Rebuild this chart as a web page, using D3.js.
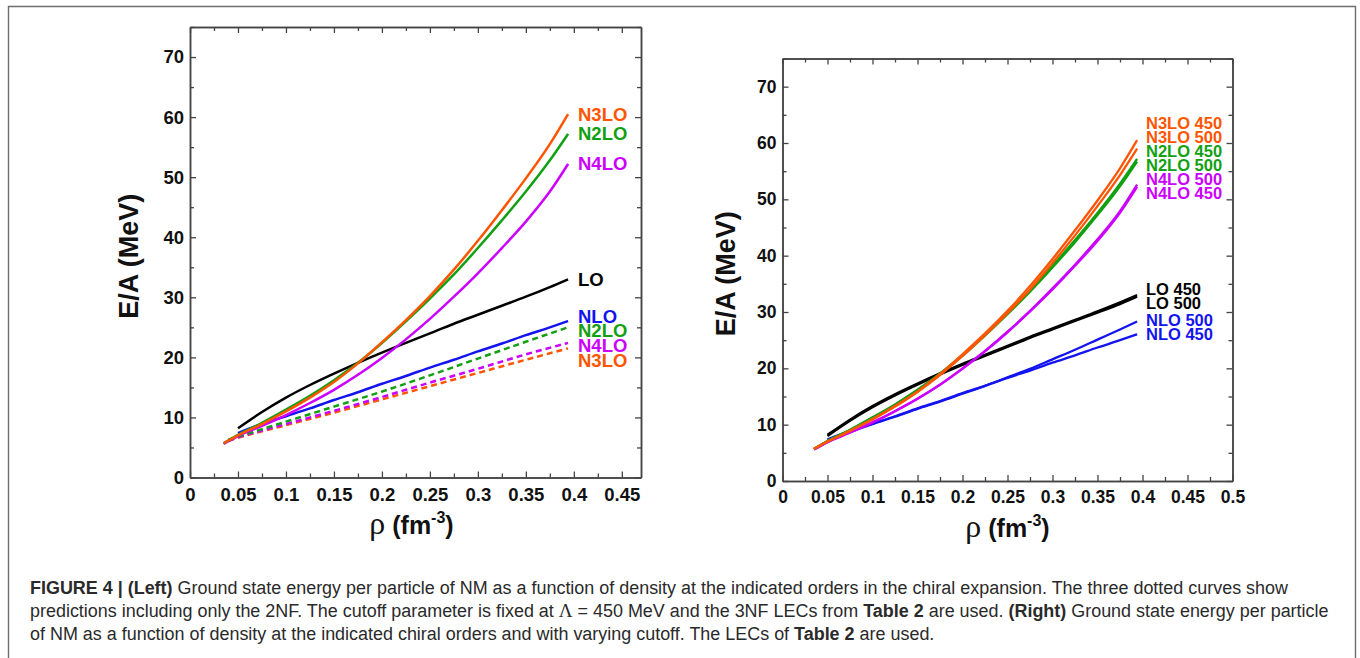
<!DOCTYPE html>
<html>
<head>
<meta charset="utf-8">
<script src="https://cdn.jsdelivr.net/npm/d3@7"></script>
<style>
  html, body { margin: 0; padding: 0; background: #fff; }
  svg { display: block; }
</style>
</head>
<body>
<svg id="fig" width="1360" height="658"></svg>
<script>
// ---- densities (fm^-3) ----
const rho = [0.035, 0.05, 0.075, 0.1, 0.125, 0.15, 0.175, 0.2, 0.225, 0.25, 0.275, 0.3, 0.325, 0.35, 0.375, 0.394];
const rhoFrom05 = [0.05, 0.075, 0.1, 0.125, 0.15, 0.175, 0.2, 0.225, 0.25, 0.275, 0.3, 0.325, 0.35, 0.375, 0.394];
const rho2NF = [0.04, 0.05, 0.1, 0.15, 0.2, 0.25, 0.3, 0.35, 0.394];

// ---- E/A (MeV), full calculations ----
const n3lo450 = [5.7, 7.0, 8.9, 11.0, 13.3, 15.9, 19.0, 22.5, 26.2, 30.2, 34.6, 39.4, 44.5, 49.8, 55.5, 60.5];
const n3lo500 = [5.7, 7.0, 8.9, 10.9, 13.2, 15.8, 18.8, 22.2, 25.9, 29.8, 34.0, 38.7, 43.6, 48.8, 54.3, 59.0];
const n2lo450 = [5.7, 7.1, 9.1, 11.3, 13.6, 16.2, 19.1, 22.4, 26.0, 29.8, 33.8, 38.2, 42.8, 47.6, 52.8, 57.2];
const n2lo500 = [5.7, 7.1, 9.0, 11.2, 13.5, 16.1, 19.0, 22.2, 25.8, 29.6, 33.6, 37.9, 42.4, 47.2, 52.3, 56.7];
const n4lo450 = [5.6, 6.9, 8.6, 10.4, 12.4, 14.6, 17.1, 19.9, 23.0, 26.4, 30.1, 34.0, 38.2, 42.6, 47.6, 52.2];
const n4lo500 = [5.6, 6.9, 8.6, 10.4, 12.4, 14.6, 17.1, 20.0, 23.1, 26.5, 30.2, 34.2, 38.4, 42.9, 47.9, 52.6];
const lo450 = [8.2, 10.9, 13.3, 15.4, 17.3, 19.1, 20.8, 22.4, 24.0, 25.6, 27.1, 28.6, 30.1, 31.7, 33.0];
const lo500 = [8.0, 10.7, 13.1, 15.2, 17.1, 18.9, 20.6, 22.2, 23.8, 25.4, 26.9, 28.4, 29.9, 31.4, 32.7];
const nlo450 = [7.4, 8.9, 10.2, 11.5, 12.9, 14.2, 15.6, 16.9, 18.3, 19.6, 21.0, 22.3, 23.7, 25.0, 26.05];
const nlo500 = [7.2, 8.7, 10.1, 11.4, 12.8, 14.1, 15.5, 16.9, 18.4, 19.9, 21.6, 23.3, 25.1, 26.9, 28.3];

// ---- E/A (MeV), 2NF only ----
const n2lo2NF = [6.3, 6.8, 9.3, 11.8, 14.3, 17.0, 19.8, 22.6, 25.0];
const n4lo2NF = [6.2, 6.7, 8.9, 11.1, 13.4, 15.8, 18.1, 20.5, 22.4];
const n3lo2NF = [6.1, 6.6, 8.7, 10.8, 13.0, 15.2, 17.4, 19.6, 21.5];

// ---- axis ticks ----
const yTicks = [0, 10, 20, 30, 40, 50, 60, 70];
const yMinor = [5, 15, 25, 35, 45, 55, 65, 75];
const xTicksLeft = [0, 0.05, 0.1, 0.15, 0.2, 0.25, 0.3, 0.35, 0.4, 0.45];
const xTicksRight = [0, 0.05, 0.1, 0.15, 0.2, 0.25, 0.3, 0.35, 0.4, 0.45, 0.5];
const xMinorLeft = [0.025, 0.075, 0.125, 0.175, 0.225, 0.275, 0.325, 0.375, 0.425];
const xMinorRight = [0.025, 0.075, 0.125, 0.175, 0.225, 0.275, 0.325, 0.375, 0.425, 0.475];

// ---- curve labels: text and vertical placement (MeV) ----
const labelsLeft = ["N3LO", "N2LO", "N4LO", "LO", "NLO", "N2LO", "N4LO", "N3LO"];
const labelYLeft = [60.5, 57.3, 52.3, 33.0, 26.9, 24.5, 22.0, 19.5];
const labelsRight = ["N3LO 450", "N3LO 500", "N2LO 450", "N2LO 500", "N4LO 500", "N4LO 450", "LO 450", "LO 500", "NLO 500", "NLO 450"];
const labelYRight = [63.6, 61.1, 58.6, 56.1, 53.6, 51.1, 34.1, 31.6, 28.6, 26.0];

const C = { N3LO: "#ff5500", N2LO: "#12a012", N4LO: "#cc00ff", LO: "#000000", NLO: "#1414f0" };
const colorOf = t => C[t.split(" ")[0]];

const svg = d3.select("#fig");
svg.append("rect").attr("width", 1360).attr("height", 658).attr("fill", "#fff");

// figure frame (open at the bottom)
svg.append("path")
  .attr("d", "M8.5,658 V6.5 H1355.5 V658")
  .attr("fill", "none").attr("stroke", "#6e6e6e").attr("stroke-width", 1.4);

const tickFmt = d => d === 0 ? "0" : String(+d.toFixed(2));

function panel(cfg) {
  const g = svg.append("g");
  const x = d3.scaleLinear().domain([0, cfg.xmax]).range([cfg.left, cfg.right]);
  const y = d3.scaleLinear().domain([0, 75]).range([cfg.bottom, cfg.top]);

  const styleAxis = sel => {
    sel.selectAll("path.domain").attr("stroke", "#444").attr("stroke-width", 1.5);
    sel.selectAll(".tick line").attr("stroke", "#444").attr("stroke-width", 1.3);
    sel.selectAll("text").attr("font-family", "Liberation Sans, Arial, sans-serif")
      .attr("font-weight", "bold").attr("font-size", cfg.tickFont).attr("fill", "#111");
  };

  // major + minor ticks on all four sides, pointing inward
  g.append("g").attr("transform", `translate(0,${cfg.bottom})`)
    .call(d3.axisBottom(x).tickValues(cfg.xTicks).tickFormat(tickFmt).tickSizeInner(-6).tickSizeOuter(0).tickPadding(10))
    .call(styleAxis);
  g.append("g").attr("transform", `translate(0,${cfg.bottom})`)
    .call(d3.axisBottom(x).tickValues(cfg.xMinor).tickFormat("").tickSizeInner(-4).tickSizeOuter(0))
    .call(styleAxis);
  g.append("g").attr("transform", `translate(0,${cfg.top})`)
    .call(d3.axisTop(x).tickValues(cfg.xTicks).tickFormat("").tickSizeInner(-6).tickSizeOuter(0))
    .call(styleAxis);
  g.append("g").attr("transform", `translate(0,${cfg.top})`)
    .call(d3.axisTop(x).tickValues(cfg.xMinor).tickFormat("").tickSizeInner(-4).tickSizeOuter(0))
    .call(styleAxis);
  g.append("g").attr("transform", `translate(${cfg.left},0)`)
    .call(d3.axisLeft(y).tickValues(yTicks).tickFormat(d3.format("d")).tickSizeInner(-6).tickSizeOuter(0).tickPadding(6))
    .call(styleAxis);
  g.append("g").attr("transform", `translate(${cfg.left},0)`)
    .call(d3.axisLeft(y).tickValues(yMinor).tickFormat("").tickSizeInner(-4).tickSizeOuter(0))
    .call(styleAxis);
  g.append("g").attr("transform", `translate(${cfg.right},0)`)
    .call(d3.axisRight(y).tickValues(yTicks).tickFormat("").tickSizeInner(-6).tickSizeOuter(0))
    .call(styleAxis);
  g.append("g").attr("transform", `translate(${cfg.right},0)`)
    .call(d3.axisRight(y).tickValues(yMinor).tickFormat("").tickSizeInner(-4).tickSizeOuter(0))
    .call(styleAxis);

  // axis titles
  const cx = (cfg.left + cfg.right) / 2;
  const xt = g.append("text").attr("x", cx + cfg.xTitleShift).attr("y", cfg.bottom + 56)
    .attr("text-anchor", "middle").attr("fill", "#111")
    .attr("font-family", "Liberation Sans, Arial, sans-serif").attr("font-weight", "bold").attr("font-size", 25);
  xt.append("tspan").attr("font-family", "Liberation Serif, serif").attr("font-weight", "normal").attr("font-size", 32).text("ρ");
  xt.append("tspan").text(" (fm");
  xt.append("tspan").attr("font-size", 16).attr("dy", -11).text("-3");
  xt.append("tspan").attr("dy", 11).text(")");

  g.append("text")
    .attr("transform", `translate(${cfg.yTitleX},${(cfg.top + cfg.bottom) / 2 + 4}) rotate(-90)`)
    .attr("text-anchor", "middle").attr("fill", "#111")
    .attr("font-family", "Liberation Sans, Arial, sans-serif").attr("font-weight", "bold").attr("font-size", 27)
    .text("E/A (MeV)");

  // curves
  const line = d3.line().x(d => x(d[0])).y(d => y(d[1])).curve(d3.curveMonotoneX);
  cfg.series.forEach(s => {
    g.append("path")
      .attr("d", line(d3.zip(s.x, s.y)))
      .attr("fill", "none").attr("stroke", C[s.order])
      .attr("stroke-width", cfg.lineWidth)
      .attr("stroke-dasharray", s.dashed ? "6,4" : null);
  });

  // curve labels
  cfg.labels.forEach((t, i) => {
    g.append("text").attr("x", cfg.labelX).attr("y", y(cfg.labelY[i])).attr("dy", "0.36em")
      .attr("fill", colorOf(t))
      .attr("font-family", "Liberation Sans, Arial, sans-serif").attr("font-weight", "bold")
      .attr("font-size", cfg.labelFont).text(t);
  });
}

panel({
  left: 190, right: 641, top: 27, bottom: 477.5, xmax: 0.47,
  xTicks: xTicksLeft, xMinor: xMinorLeft, tickFont: 18.5, lineWidth: 2.5,
  yTitleX: 138, xTitleShift: -4,
  labelX: 578, labelFont: 18.5, labels: labelsLeft, labelY: labelYLeft,
  series: [
    { order: "N3LO", x: rho2NF, y: n3lo2NF, dashed: true },
    { order: "N4LO", x: rho2NF, y: n4lo2NF, dashed: true },
    { order: "N2LO", x: rho2NF, y: n2lo2NF, dashed: true },
    { order: "NLO", x: rhoFrom05, y: nlo450 },
    { order: "LO", x: rhoFrom05, y: lo450 },
    { order: "N4LO", x: rho, y: n4lo450 },
    { order: "N2LO", x: rho, y: n2lo450 },
    { order: "N3LO", x: rho, y: n3lo450 }
  ]
});

panel({
  left: 782.5, right: 1232.5, top: 58.5, bottom: 481, xmax: 0.5,
  xTicks: xTicksRight, xMinor: xMinorRight, tickFont: 17.5, lineWidth: 2.3,
  yTitleX: 735, xTitleShift: 0,
  labelX: 1146, labelFont: 16.5, labels: labelsRight, labelY: labelYRight,
  series: [
    { order: "NLO", x: rhoFrom05, y: nlo500 },
    { order: "NLO", x: rhoFrom05, y: nlo450 },
    { order: "LO", x: rhoFrom05, y: lo500 },
    { order: "LO", x: rhoFrom05, y: lo450 },
    { order: "N4LO", x: rho, y: n4lo500 },
    { order: "N4LO", x: rho, y: n4lo450 },
    { order: "N2LO", x: rho, y: n2lo500 },
    { order: "N2LO", x: rho, y: n2lo450 },
    { order: "N3LO", x: rho, y: n3lo500 },
    { order: "N3LO", x: rho, y: n3lo450 }
  ]
});

// caption: one text per line, sized so the full second line spans the frame width
const captionLines = [
  [["b", "FIGURE 4 | (Left)"], ["r", " Ground state energy per particle of NM as a function of density at the indicated orders in the chiral expansion. The three dotted curves show"]],
  [["r", "predictions including only the 2NF. The cutoff parameter is fixed at "], ["s", "Λ"], ["r", " = 450 MeV and the 3NF LECs from "], ["b", "Table 2"], ["r", " are used. "], ["b", "(Right)"], ["r", " Ground state energy per particle"]],
  [["r", "of NM as a function of density at the indicated chiral orders and with varying cutoff. The LECs of "], ["b", "Table 2"], ["r", " are used."]]
];
const capX = 30, capRight = 1329, baseFont = 15.6;
const capTexts = captionLines.map((parts, i) => {
  const t = svg.append("text").attr("x", capX).attr("y", 594 + i * 23).attr("fill", "#2a2a2a")
    .attr("font-family", "Liberation Sans, Arial, sans-serif").attr("font-size", baseFont);
  parts.forEach(p => {
    const ts = t.append("tspan").text(p[1]);
    if (p[0] === "b") ts.attr("font-weight", "bold");
    if (p[0] === "s") ts.attr("font-family", "Liberation Serif, serif").attr("font-size", baseFont * 1.06);
  });
  return t;
});
const w2 = capTexts[1].node().getComputedTextLength();
const k = (capRight - capX) / w2;
capTexts.forEach(t => {
  t.attr("font-size", baseFont * k);
  t.selectAll("tspan").filter(function () { return this.getAttribute("font-size"); })
    .attr("font-size", baseFont * 1.06 * k);
});
</script>
</body>
</html>
